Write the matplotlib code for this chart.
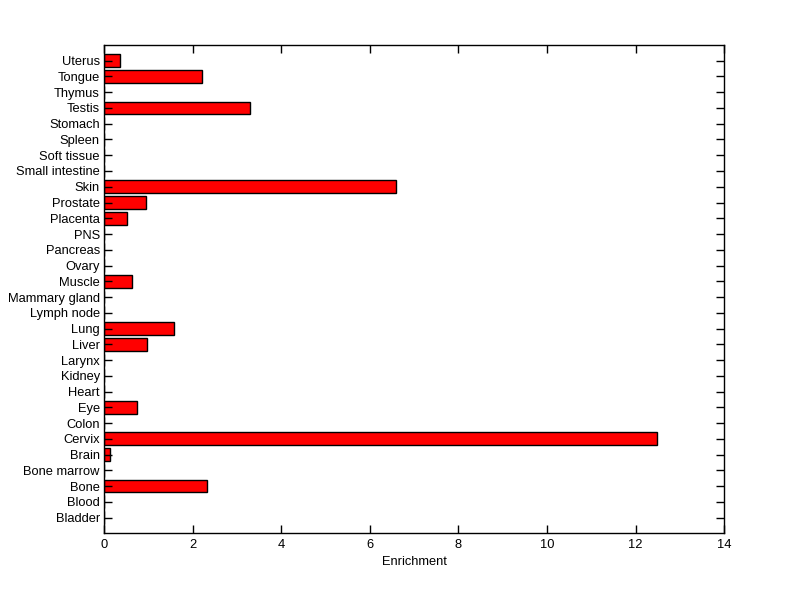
import matplotlib
matplotlib.use("Agg")
from matplotlib import pyplot as plt
import numpy as np

# tissues, bottom to top as on the y axis
tissues = ["Bladder", "Blood", "Bone", "Bone marrow", "Brain", "Cervix", "Colon",
           "Eye", "Heart", "Kidney", "Larynx", "Liver", "Lung", "Lymph node",
           "Mammary gland", "Muscle", "Ovary", "Pancreas", "PNS", "Placenta",
           "Prostate", "Skin", "Small intestine", "Soft tissue", "Spleen",
           "Stomach", "Testis", "Thymus", "Tongue", "Uterus"]
enrichment = [0, 0, 2.33, 0, 0.14, 12.47, 0,
              0.75, 0, 0, 0, 0.98, 1.57, 0,
              0, 0.63, 0, 0, 0, 0.53,
              0.95, 6.59, 0, 0, 0,
              0, 3.30, 0, 2.21, 0.35]
x_ticks = [0, 2, 4, 6, 8, 10, 12, 14]

plt.rcParams['font.family'] = ['Liberation Sans', 'DejaVu Sans']
plt.rcParams['font.size'] = 9.3

fig = plt.figure(figsize=(8, 5.99), dpi=100)
ax = fig.add_axes([0.13, 0.1097, 0.7754, 0.8152])

pos = np.arange(1, len(tissues) + 1)
ax.barh(pos, enrichment, height=0.8, color="#ff0000", edgecolor="black", linewidth=1)

ax.set_xlim(0, 14)
ax.set_ylim(0, len(tissues) + 1)
ax.set_xticks(x_ticks)
ax.set_yticks(pos)
ax.set_yticklabels(tissues)
ax.set_xlabel("Enrichment", labelpad=4)

ax.tick_params(direction="in", length=6, width=1, top=True, right=True, pad=4)
ax.tick_params(axis="y", pad=3)
for s in ax.spines.values():
    s.set_linewidth(1)

fig.savefig("out.png", dpi=100)
